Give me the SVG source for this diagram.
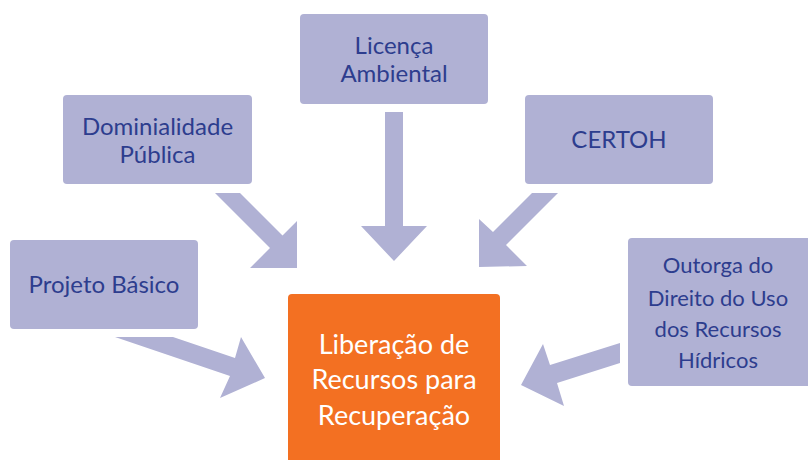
<svg xmlns="http://www.w3.org/2000/svg" width="808" height="460" viewBox="0 0 808 460">
<style>
.box{fill:#b0b1d4;}
.lbl{font-family:Lato,"Open Sans","Liberation Sans",sans-serif;font-size:24px;fill:#2d3d8e;text-anchor:middle;}
.sm{font-size:22px;}
.main{fill:#f37022;}
.mlbl{font-family:Lato,"Open Sans","Liberation Sans",sans-serif;font-size:27px;fill:#ffffff;text-anchor:middle;}
.arr{fill:#b0b1d4;}
</style>
<rect width="808" height="460" fill="#ffffff"/>
<g id="connectors">
<polygon class="arr" points="385,112 403,112 403,226 427,226 394,261 361,226 385,226"/>
<polygon class="arr" points="215,193 240,193 282.5,235.5 297,221 297,268 250,268 270,248"/>
<polygon class="arr" points="532,193 558,193 506,245 527,266 479,267 479,219 493,232"/>
<polygon class="arr" points="115,337 173,337 235,358 241,337 265,378 220,398 230,376"/>
<polygon class="arr" points="620,343 620,363 557,383 564,406 521,385 543,344 550,365"/>
</g>
<g id="licenca">
<rect class="box" x="300" y="14" width="188" height="90" rx="4"/>
<text class="lbl" x="394" y="54">Licença</text>
<text class="lbl" x="394" y="82">Ambiental</text>
</g>
<g id="dominialidade">
<rect class="box" x="63" y="95" width="189" height="89" rx="4"/>
<text class="lbl" x="157.5" y="135">Dominialidade</text>
<text class="lbl" x="157.5" y="163">Pública</text>
</g>
<g id="certoh">
<rect class="box" x="525" y="95" width="188" height="89" rx="4"/>
<text class="lbl" x="619" y="148">CERTOH</text>
</g>
<g id="projeto">
<rect class="box" x="10" y="240" width="188" height="89" rx="4"/>
<text class="lbl" x="104" y="293">Projeto Básico</text>
</g>
<g id="outorga">
<rect class="box" x="628" y="238" width="190" height="148" rx="4"/>
<text class="lbl sm" x="718" y="273">Outorga do</text>
<text class="lbl sm" x="718" y="306">Direito do Uso</text>
<text class="lbl sm" x="718" y="337">dos Recursos</text>
<text class="lbl sm" x="718" y="368">Hídricos</text>
</g>
<g id="liberacao">
<rect class="main" x="288" y="294" width="212" height="180" rx="4"/>
<text class="mlbl" x="394" y="354">Liberação de</text>
<text class="mlbl" x="394" y="389">Recursos para</text>
<text class="mlbl" x="394" y="425">Recuperação</text>
</g>
</svg>
